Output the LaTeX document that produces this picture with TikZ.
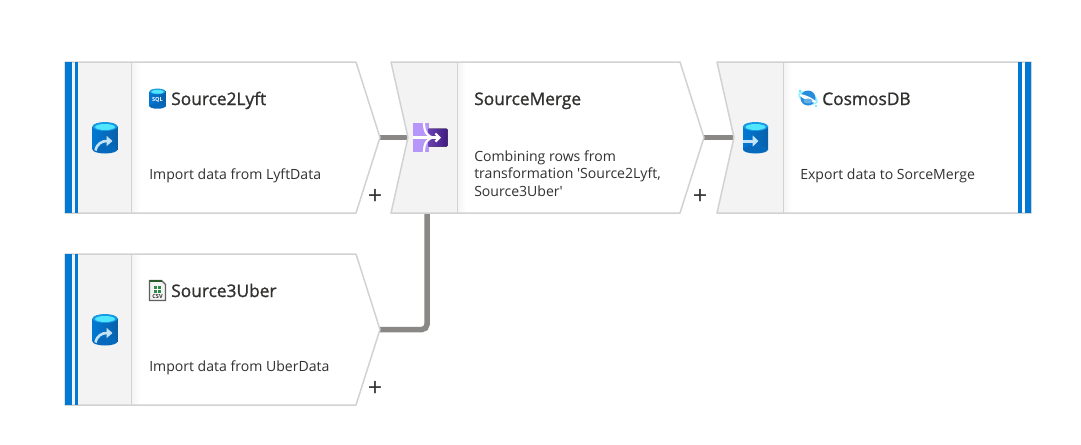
\documentclass[tikz,border=0pt]{standalone}
\usepackage{fontspec}
\setmainfont{Open Sans}
\newfontfamily\titlefont[FakeBold=1.2]{Open Sans}
\usetikzlibrary{arrows.meta,positioning,calc}
\def\px{.75pt}
\definecolor{panelgrey}{HTML}{F3F3F3}
\definecolor{edgegrey}{HTML}{D2D2D2}
\definecolor{flowgrey}{HTML}{8A8886}
\definecolor{inkdark}{HTML}{323130}
\definecolor{azure}{HTML}{0078D4}
\definecolor{azuredeep}{HTML}{0A5FAA}
\definecolor{cyanlid}{HTML}{50E6FF}
\definecolor{palearrow}{HTML}{C3E4F7}
\definecolor{mergelight}{HTML}{B796F9}
\definecolor{mergedark}{HTML}{3F1C80}
\definecolor{mergemid}{HTML}{6B3FB5}
\definecolor{csvgreen}{HTML}{2E8B47}
\begin{document}
\begin{tikzpicture}[x=\px,y=-\px,font=\fontsize{10.55pt}{13.1pt}\selectfont,text=inkdark,>=Latex,
stepbox/.style={minimum height=151*\px,inner sep=0pt,outer sep=0pt},
stepline/.style={draw=edgegrey,line width=1.5*\px,line join=round},
flow/.style={draw=flowgrey,line width=5.5*\px},
title/.style={anchor=base west,inner sep=0pt,font=\titlefont\fontsize{13pt}{15pt}\selectfont},
desc/.style={anchor=base west,inner sep=0pt,align=left},
plus/.style={inner sep=0pt,font=\fontsize{19pt}{19pt}\selectfont},
tinytag/.style={inner sep=0pt,font=\bfseries\fontsize{4.2pt}{5pt}\selectfont},
pics/dbbody/.style={code={
  \fill[left color=azure,right color=azuredeep] (-12.5,-11) rectangle (12.5,12);
  \fill[azuredeep!60!azure] (0,12) ellipse [x radius=12.5,y radius=4];
  \fill[azure!70!cyanlid] (0,-11) ellipse [x radius=12.5,y radius=4.5];
  \fill[cyanlid] (0,-10.5) ellipse [x radius=10,y radius=3];
}},
pics/dbimport/.style={code={
  \pic {dbbody};
  \draw[palearrow,line width=2.6*\px,-{Triangle[length=6*\px,width=10*\px]}] (-9.5,13) .. controls (-8,6) and (-3,3.5) .. (7.5,3.5);
}},
pics/dbexport/.style={code={
  \pic {dbbody};
  \draw[palearrow,line width=3*\px,-{Triangle[length=6*\px,width=11*\px]}] (-12.5,3.5) -- (3,3.5);
}},
pics/mergeglyph/.style={code={
  \fill[mergelight] (-17.5,-14.5) rectangle (-1,14);
  \fill[left color=mergemid,right color=mergedark,rounded corners=1*\px] (-2,-9) rectangle (17.5,9);
  \draw[white,line width=2.2*\px] (-6,-15) .. controls (-6,-6) and (-3,0) .. (5,0);
  \draw[white,line width=2.2*\px] (-6,14.5) .. controls (-6,6) and (-3,0) .. (5,0);
  \draw[white,line width=2.2*\px,-{Straight Barb[length=4*\px,width=8*\px]}] (-17.5,0) -- (11,0);
}},
pics/csvglyph/.style={code={
  \fill[panelgrey] (-8,-10) rectangle (8,10);
  \draw[flowgrey!70!black,line width=1.2*\px] (-8,-10) -- (4,-10) -- (8,-6) -- (8,10) -- (-8,10) -- cycle;
  \fill[inkdark!80!green] (-8,-10.5) rectangle (4,-8.5);
  \fill[csvgreen] (-3.5,-5) rectangle (3.5,2);
  \draw[white,line width=.4*\px] (0,-5) -- (0,2) (-3.5,-1.5) -- (3.5,-1.5);
}},
pics/cosmosglyph/.style={code={
  \fill[cyanlid!60!white,rotate=-25] (0,0) ellipse [x radius=10.5,y radius=5.5];
  \fill[azure!85!white] (0,0) circle [radius=7.5];
  \fill[white,rotate=-25] (0,.5) ellipse [x radius=9,y radius=2];
  \fill[azure!60!white] (0,3) ellipse [x radius=4.5,y radius=2.5];
  \fill[cyanlid] (-8,-7) circle [radius=1.3];
  \fill[cyanlid] (8,8) circle [radius=1.1];
}}]
\path[fill=white] (0,0) rectangle (1081,444);
\node[stepbox,minimum width=315*\px] (lyft) at (222.5,137.5) {};
\node[stepbox,minimum width=313*\px,right=11*\px of lyft] (merge) {};
\node[stepbox,minimum width=314*\px,right=13*\px of merge] (cosmos) {};
\node[stepbox,minimum width=315*\px,below=41*\px of lyft] (uber) {};
% connectors go under the step shapes
\draw[flow] (lyft.east)--([xshift=18*\px]merge.west);
\draw[flow] (merge.east)--([xshift=18*\px]cosmos.west);
\draw[flow,rounded corners=5*\px] (uber.east)-|([xshift=36*\px]merge.south west);
% step shapes
\foreach \nm/\notch/\tip in {lyft/0/24,merge/17/24,cosmos/17/0,uber/0/24}{
  \fill[white] ($(\nm.north east)+(-\tip,0)$)--(\nm.east)--($(\nm.south east)+(-\tip,0)$)--(\nm.south west)--($(\nm.west)+(\notch,0)$)--(\nm.north west)--cycle;
  \shade[left color=black!4,right color=white] ($(\nm.north west)+(67,0)$) rectangle ($(\nm.south west)+(75,0)$);
  \fill[panelgrey] (\nm.north west)--($(\nm.north west)+(66.5,0)$)--($(\nm.south west)+(66.5,0)$)--(\nm.south west)--($(\nm.west)+(\notch,0)$)--cycle;
  \draw[stepline] ($(\nm.north west)+(66.5,0)$)--($(\nm.south west)+(66.5,0)$);
  \draw[stepline] ($(\nm.north east)+(-\tip,0)$)--(\nm.east)--($(\nm.south east)+(-\tip,0)$)--(\nm.south west)--($(\nm.west)+(\notch,0)$)--(\nm.north west)--cycle;
}
% blue bars at both ends of the flow
\foreach \nm in {lyft,uber}{
  \fill[azure] (\nm.north west) rectangle ($(\nm.south west)+(6.5,0)$);
  \fill[azure] ($(\nm.north west)+(9.5,0)$) rectangle ($(\nm.south west)+(13,0)$);
}
\fill[azure] ($(cosmos.north east)+(-13,0)$) rectangle ($(cosmos.south east)+(-9.5,0)$);
\fill[azure] ($(cosmos.north east)+(-6.5,0)$) rectangle (cosmos.south east);
% icons
\pic at ($(lyft.west)+(40,0)$) {dbimport};
\pic at ($(uber.west)+(40,0)$) {dbimport};
\pic at ($(cosmos.west)+(38.5,0)$) {dbexport};
\pic at ($(merge.west)+(39,0)$) {mergeglyph};
\pic[scale=.64] (sqlicon) at ($(lyft.west)+(92.5,-39)$) {dbbody};
\node[tinytag,text=white] (sqltag) at ($(lyft.west)+(92.5,-37.5)$) {SQL};
\pic (csvicon) at ($(uber.west)+(92.5,-39)$) {csvglyph};
\node[tinytag,text=inkdark] (csvtag) at ($(uber.west)+(92.5,-32.8)$) {CSV};
\pic at ($(cosmos.west)+(91,-39.5)$) {cosmosglyph};
% labels
\node[title] (lyfttitle) at ($(lyft.west)+(106,-32.5)$) {Source2Lyft};
\node[desc] (lyftdesc) at ($(lyft.west)+(84,41.5)$) {Import data from LyftData};
\node[title] (mergetitle) at ($(merge.west)+(83,-32.5)$) {SourceMerge};
\node[desc] (mergedesc) at ($(merge.west)+(83,58.5)$) {Combining rows from\\transformation \textquotesingle Source2Lyft,\\Source3Uber\textquotesingle};
\node[title] (cosmostitle) at ($(cosmos.west)+(105,-32.5)$) {CosmosDB};
\node[desc] (cosmosdesc) at ($(cosmos.west)+(83,41.5)$) {Export data to SorceMerge};
\node[title] (ubertitle) at ($(uber.west)+(106,-32.5)$) {Source3Uber};
\node[desc] (uberdesc) at ($(uber.west)+(84,41.5)$) {Import data from UberData};
\node[plus] (lyftplus) at ($(lyft.south east)+(-5,-16)$) {+};
\node[plus] (mergeplus) at ($(merge.south east)+(-4,-16)$) {+};
\node[plus] (uberplus) at ($(uber.south east)+(-5,-16)$) {+};
\end{tikzpicture}
\end{document}
